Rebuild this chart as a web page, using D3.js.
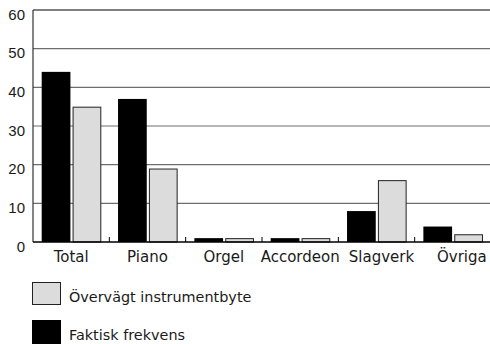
<!DOCTYPE html>
<html>
<head>
<meta charset="utf-8">
<script src="https://cdn.jsdelivr.net/npm/d3@7"></script>
<style>
  html, body { margin: 0; padding: 0; background: #fff; }
  svg { display: block; }
  text { fill: #1a1a1a; }
  .ylab { font-family: "Liberation Sans", Arial, sans-serif; }
  .xlab, .leg { font-family: "DejaVu Sans", sans-serif; }
</style>
</head>
<body>
<svg id="chart" width="490" height="344"></svg>
<script>
const categories = ["Total", "Piano", "Orgel", "Accordeon", "Slagverk", "Övriga"];
const seriesNames = ["Faktisk frekvens", "Övervägt instrumentbyte"];
const faktisk = [44, 37, 1, 1, 8, 4];
const overvagt = [35, 19, 1, 1, 16, 2];
const yTicks = [0, 10, 20, 30, 40, 50, 60];
const seriesColors = ["#000000", "#dcdcdc"];

const svg = d3.select("#chart");
const pLeft = 33, pRight = 491, pTop = 10, pBottom = 242;

const x = d3.scaleBand().domain(categories).range([pLeft, pRight]).padding(0);
const x1 = d3.scaleBand().domain(seriesNames).range([8.7, 68.3]).paddingInner(0.07);
const y = d3.scaleLinear().domain([0, 60]).range([pBottom, pTop]);

// gridlines
svg.append("g").selectAll("line")
  .data(yTicks.filter(t => t > 0 && t < 60))
  .join("line")
  .attr("x1", pLeft).attr("x2", 490)
  .attr("y1", d => y(d)).attr("y2", d => y(d))
  .attr("stroke", "#6e6e6e").attr("stroke-width", 1.2);

// top line
svg.append("line").attr("x1", pLeft).attr("x2", 490)
  .attr("y1", y(60)).attr("y2", y(60)).attr("stroke", "#000").attr("stroke-width", 1.2);

// y labels
svg.append("g").selectAll("text")
  .data(yTicks).join("text")
  .attr("class", "ylab")
  .attr("x", 25).attr("y", d => y(d) + 9.5)
  .attr("text-anchor", "end")
  .attr("font-size", 15)
  .text(d => d);

const data = categories.map((c, i) => ({cat: c, vals: [faktisk[i], overvagt[i]]}));

const groups = svg.append("g").selectAll("g")
  .data(data).join("g")
  .attr("transform", d => `translate(${x(d.cat)},0)`);

groups.selectAll("rect")
  .data(d => d.vals.map((v, j) => ({name: seriesNames[j], v, j})))
  .join("rect")
  .attr("x", d => x1(d.name) + (d.j === 1 ? 0.5 : 0))
  .attr("width", d => x1.bandwidth() - (d.j === 1 ? 1 : 0))
  .attr("y", d => y(d.v) + (d.j === 1 ? 0.5 : 0))
  .attr("height", d => pBottom - y(d.v) - (d.j === 1 ? 0.5 : 0))
  .attr("fill", d => seriesColors[d.j])
  .attr("stroke", d => d.j === 1 ? "#222" : "none")
  .attr("stroke-width", 1);

// y axis line
svg.append("line").attr("x1", pLeft).attr("x2", pLeft)
  .attr("y1", pTop).attr("y2", pBottom).attr("stroke", "#333").attr("stroke-width", 1.2);

// baseline
svg.append("line").attr("x1", pLeft).attr("x2", 490)
  .attr("y1", pBottom).attr("y2", pBottom).attr("stroke", "#000").attr("stroke-width", 1.5);

// x ticks between categories
svg.append("g").selectAll("line")
  .data(categories.slice(1)).join("line")
  .attr("x1", d => x(d)).attr("x2", d => x(d))
  .attr("y1", pBottom).attr("y2", pBottom - 5)
  .attr("stroke", "#000").attr("stroke-width", 1);

// x labels (small right nudge on the last two, as in the original layout)
const labelNudge = [0, 0, 0, 0, 5, 9];
svg.append("g").selectAll("text")
  .data(categories).join("text")
  .attr("class", "xlab")
  .attr("x", (d, i) => x(d) + x.bandwidth() / 2 + labelNudge[i])
  .attr("y", 262.3)
  .attr("text-anchor", "middle")
  .attr("font-size", 15)
  .text(d => d);

// legend
const legendItems = [
  {name: seriesNames[1], color: seriesColors[1], ly: 282},
  {name: seriesNames[0], color: seriesColors[0], ly: 320}
];
const lg = svg.append("g").selectAll("g").data(legendItems).join("g");
lg.append("rect")
  .attr("x", d => d.name === seriesNames[1] ? 32.5 : 32)
  .attr("y", d => d.name === seriesNames[1] ? d.ly + 0.5 : d.ly)
  .attr("width", d => d.name === seriesNames[1] ? 28 : 29)
  .attr("height", d => d.name === seriesNames[1] ? 22 : 24)
  .attr("fill", d => d.color)
  .attr("stroke", d => d.name === seriesNames[1] ? "#222" : "none");
lg.append("text")
  .attr("class", "leg")
  .attr("x", 69)
  .attr("y", d => d.ly + 19.5)
  .attr("font-size", 14.4)
  .text(d => d.name);
</script>
</body>
</html>
